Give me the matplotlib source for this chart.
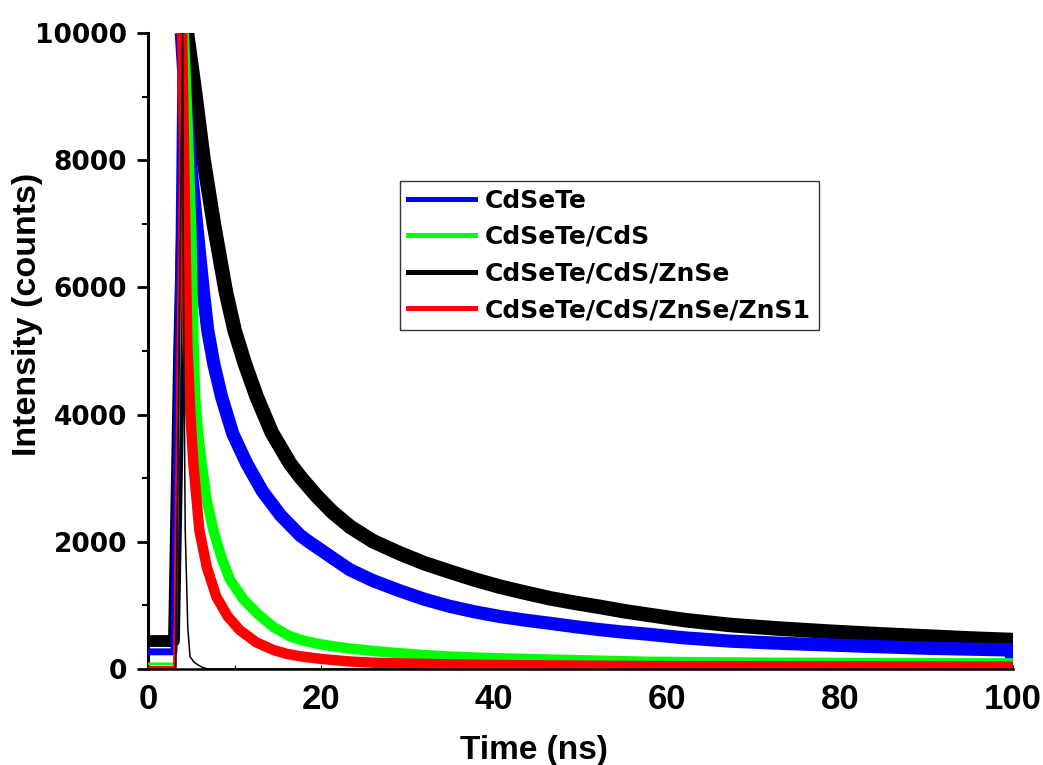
import matplotlib
matplotlib.use("Agg")
import matplotlib.pyplot as plt
from matplotlib.ticker import MultipleLocator
from matplotlib.lines import Line2D

# ---- data (time in ns, intensity in counts) ----
t_blue = [0, 3.0, 3.45, 3.85, 4.3, 4.86, 5.63, 6.4, 6.9, 7.6, 8.5, 9.8, 11.4, 13.2,
          15.3, 17.6, 18.7, 19.9, 21.5, 23.35, 26, 29.1, 32, 34.9, 37.8, 40.7, 43.6,
          46.5, 49.4, 52.3, 55, 57.7, 62, 67.3, 73, 78.8, 84.6, 90.4, 95, 99.8, 100]
i_blue = [270, 270, 5000, 10000, 9000, 8030, 6981, 5932, 5330, 4800, 4282, 3700, 3234, 2800,
          2420, 2100, 1990, 1880, 1730, 1560, 1390, 1230, 1095, 985, 898, 825, 768,
          718, 665, 618, 580, 548, 490, 438, 405, 377, 350, 325, 312, 299, 0]

t_green = [0, 3.1, 3.6, 4.15, 4.6, 5.0, 5.25, 5.45, 5.8, 6.2, 6.8, 7.55, 8.5, 9.5, 11,
           12.6, 14.5, 16.4, 18, 19.9, 21.5, 23.35, 26, 29.1, 32, 34.9, 37.8, 40.7,
           46.5, 52.3, 57.7, 70, 85, 100]
i_green = [80, 80, 5000, 10000, 8500, 6900, 5200, 4282, 3700, 3234, 2650, 2186, 1750, 1400, 1100,
           877, 660, 515, 445, 390, 355, 322, 284, 248, 219, 196, 181, 168,
           148, 131, 114, 100, 92, 88]

t_black = [0, 3.0, 3.6, 4.5, 5.43, 6.4, 7.63, 9.0, 10.0, 11.2, 12.56, 14.3, 16.4, 17.6,
           19.5, 21.3, 23.35, 26, 29.1, 32, 34.9, 37.8, 40.7, 43.6, 46.5, 49.4, 52.3,
           55, 57.7, 62, 67.3, 73, 78.8, 84.6, 90.4, 95, 99.8, 100]
i_black = [440, 440, 5000, 10000, 9077, 8030, 6981, 5932, 5330, 4800, 4282, 3720, 3234, 3020,
           2720, 2470, 2238, 2010, 1819, 1660, 1530, 1405, 1294, 1200, 1111, 1040, 975,
           910, 855, 770, 692, 635, 587, 545, 509, 480, 456, 0]

t_red = [0, 3.1, 3.5, 3.95, 4.25, 4.55, 4.9, 5.24, 5.93, 6.8, 7.9, 9.2, 10.6, 12.5,
         14.5, 16, 17.6, 19.9, 23.35, 26, 29.1, 35, 40.7, 50, 57.7, 80, 100]
i_red = [20, 20, 5000, 10000, 7500, 5094, 4000, 3234, 2186, 1600, 1137, 830, 613, 420,
         299, 240, 200, 160, 118, 100, 89, 72, 63, 53, 47, 42, 37]

t_irf = [0, 3.2, 3.6, 4.0, 4.1, 4.3, 4.6, 4.86, 5.3, 5.8, 6.3, 6.8, 7.5, 100]
i_irf = [0, 0, 5000, 10000, 6000, 2200, 650, 194, 110, 63, 25, 5, 0, 0]

labels = ["CdSeTe", "CdSeTe/CdS", "CdSeTe/CdS/ZnSe", "CdSeTe/CdS/ZnSe/ZnS1"]
x_ticks = [0, 20, 40, 60, 80, 100]
y_ticks = [0, 2000, 4000, 6000, 8000, 10000]

W, H = 1043, 765
fig = plt.figure(figsize=(W / 100, H / 100), dpi=100)
ax = fig.add_axes([148 / W, 96 / H, 865 / W, 636 / H])


def draw(t, y, color, lw_rise, lw_decay, z):
    k = y.index(max(y))
    kw = dict(color=color, solid_joinstyle="round", solid_capstyle="butt", zorder=z)
    ax.plot(t[:k + 1], y[:k + 1], lw=lw_rise, **kw)
    ax.plot(t[k:], y[k:], lw=lw_decay, **kw)


draw(t_black, i_black, "#000000", 8.5, 10.5, 2)
draw(t_blue, i_blue, "#0000ff", 5.0, 9.5, 3)
draw(t_green, i_green, "#00ff00", 2.0, 7.5, 4)
draw(t_red, i_red, "#ff0000", 2.5, 7.5, 5)
ax.plot(t_irf, i_irf, color="#000000", lw=1.1, zorder=6)

ax.set_xlim(0, 100)
ax.set_ylim(0, 10000)

for s in ["top", "right"]:
    ax.spines[s].set_visible(False)
ax.spines["left"].set_linewidth(2.2)
ax.spines["bottom"].set_linewidth(1.8)

ax.set_xticks(x_ticks)
ax.set_yticks(y_ticks)
ax.xaxis.set_minor_locator(MultipleLocator(10))
ax.yaxis.set_minor_locator(MultipleLocator(1000))
ax.tick_params(axis="x", which="major", direction="in", length=3, width=0.8, pad=10)
ax.tick_params(axis="x", which="minor", direction="in", length=3, width=0.8)
ax.tick_params(axis="y", which="major", direction="out", length=8, width=2, pad=7)
ax.tick_params(axis="y", which="minor", direction="out", length=4, width=1.5)

for lab in ax.get_xticklabels():
    lab.set_fontfamily("Liberation Sans")
    lab.set_fontweight("bold")
    lab.set_fontsize(25)
for lab in ax.get_yticklabels():
    lab.set_fontfamily("DejaVu Sans")
    lab.set_fontweight("bold")
    lab.set_fontsize(19)

fig.text(534 / W, 1 - 759 / H, "Time (ns)", ha="center", va="baseline",
         fontfamily="Liberation Sans", fontweight="bold", fontsize=24)
fig.text(28 / W, 1 - 314 / H, "Intensity (counts)", ha="center", va="center",
         rotation=90, fontfamily="Liberation Sans", fontweight="bold", fontsize=24.5)

handles = [Line2D([], [], color=c, lw=3.6) for c in ["#0000ff", "#00ff00", "#000000", "#ff0000"]]
leg = ax.legend(handles, labels,
                loc="upper left", bbox_to_anchor=(400 / W, 1 - 181 / H),
                bbox_transform=fig.transFigure, borderaxespad=0,
                prop={"family": "DejaVu Sans", "weight": "bold", "size": 18},
                handlelength=2.7, handletextpad=0.4, labelspacing=0.5,
                borderpad=0.3, fancybox=False, framealpha=1, edgecolor="#333333")
leg.get_frame().set_linewidth(1.0)
leg.set_zorder(10)

fig.savefig("out.png", dpi=100)
